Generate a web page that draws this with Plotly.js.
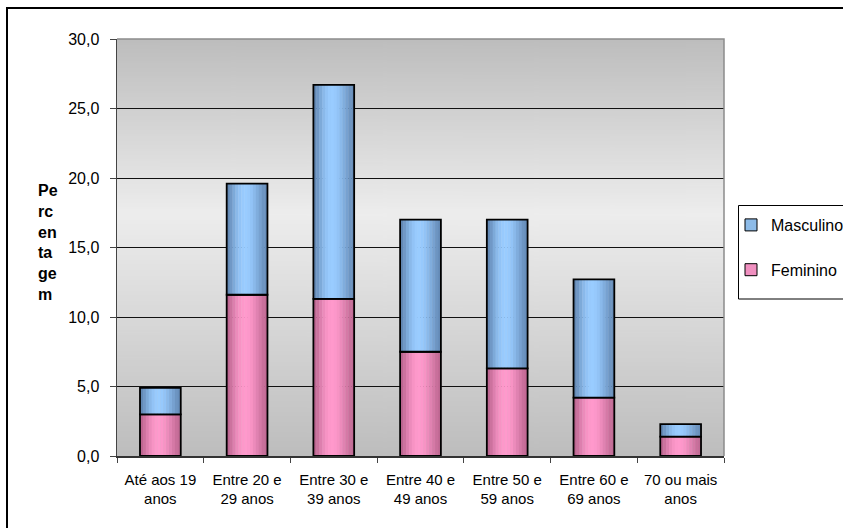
<!DOCTYPE html>
<html>
<head>
<meta charset="utf-8">
<script src="https://cdn.plot.ly/plotly-3.0.1.min.js"></script>
<style>
  html, body { margin: 0; padding: 0; background: #fff; }
  #chart { width: 843px; height: 528px; }
</style>
</head>
<body>
<div id="chart"></div>
<script>
// ---- data ----
const categories = ["Até aos 19 anos", "Entre 20 e 29 anos", "Entre 30 e 39 anos", "Entre 40 e 49 anos", "Entre 50 e 59 anos", "Entre 60 e 69 anos", "70 ou mais anos"];
const tickLabels = ["Até aos 19<br>anos", "Entre 20 e<br>29 anos", "Entre 30 e<br>39 anos", "Entre 40 e<br>49 anos", "Entre 50 e<br>59 anos", "Entre 60 e<br>69 anos", "70 ou mais<br>anos"];
const feminino = [3.0, 11.6, 11.3, 7.5, 6.3, 4.2, 1.4];
const masculino = [1.9, 8.0, 15.4, 9.5, 10.7, 8.5, 0.9];
const seriesNames = ["Masculino", "Feminino"];
const yTitle = "Pe<br>rc<br>en<br>ta<br>ge<br>m";

// ---- layout helpers ----
const W = 843, H = 528;
const M = { l: 117, r: 119, t: 39, b: 72 };
const pw = W - M.l - M.r, ph = H - M.t - M.b;
const px2x = p => (p - M.l) / pw;
const py2y = p => (H - M.b - p) / ph;
const FONT = "Liberation Sans, Arial, sans-serif";

// cylinder-like shading for bars
const barW = 0.47;
const profile = [0.22, 0.4, 0.6, 0.78, 0.9, 0.98, 1.0, 0.97, 0.9, 0.78, 0.64, 0.5, 0.36, 0.28];
const N = profile.length;
function mix(dark, light, t) {
  const c = dark.map((d, i) => Math.round(d + (light[i] - d) * t));
  return `rgb(${c[0]},${c[1]},${c[2]})`;
}
const blueDark = [84, 118, 160], blueLight = [153, 204, 255];
const pinkDark = [170, 88, 128], pinkLight = [255, 153, 204];

const femBase = feminino.map(() => 0);
const mascBase = feminino.slice();

const traces = [];
function addSeries(vals, base, dark, light) {
  for (let i = 0; i < N; i++) {
    traces.push({
      type: "bar", x: categories, y: vals, base: base,
      width: barW / N + 0.004, offset: -barW / 2 + i * barW / N,
      marker: { color: mix(dark, light, profile[i]), line: { width: 0 } },
      showlegend: false, hoverinfo: "skip"
    });
  }
  traces.push({
    type: "bar", x: categories, y: vals, base: base,
    width: barW, offset: -barW / 2,
    marker: { color: "rgba(0,0,0,0)", line: { color: "#000", width: 1.8 } },
    showlegend: false, hoverinfo: "skip"
  });
}
addSeries(feminino, femBase, pinkDark, pinkLight);
addSeries(masculino, mascBase, blueDark, blueLight);

// legend entries
traces.push({ type: "bar", x: [categories[0]], y: [null], name: seriesNames[0], legendgroup: "m",
  marker: { color: "#8dbbe8", line: { color: "#000", width: 1 } } });
traces.push({ type: "bar", x: [categories[0]], y: [null], name: seriesNames[1], legendgroup: "f",
  marker: { color: "#f090c0", line: { color: "#000", width: 1 } } });

// background gradient image
const cv = document.createElement("canvas");
cv.width = 8; cv.height = 400;
const ctx = cv.getContext("2d");
const g = ctx.createLinearGradient(0, 0, 0, 400);
g.addColorStop(0, "#bdbdbd");
g.addColorStop(0.42, "#ededed");
g.addColorStop(1, "#bdbdbd");
ctx.fillStyle = g; ctx.fillRect(0, 0, 8, 400);
const bgImg = cv.toDataURL("image/png");

const layout = {
  width: W, height: H,
  margin: { l: M.l, r: M.r, t: M.t, b: M.b, autoexpand: false },
  paper_bgcolor: "#fff", plot_bgcolor: "rgba(0,0,0,0)",
  barmode: "overlay",
  separators: ",.",
  font: { family: FONT, color: "#000", size: 15 },
  showlegend: true,
  legend: {
    x: px2x(731), xanchor: "left", y: py2y(208), yanchor: "top",
    bgcolor: "rgba(0,0,0,0)", borderwidth: 0,
    font: { family: FONT, size: 16, color: "#000" },
    traceorder: "grouped", tracegroupgap: 21
  },
  xaxis: {
    type: "category", range: [-0.5, 6.5],
    tickvals: categories, ticktext: tickLabels,
    ticks: "outside", tickson: "boundaries", ticklen: 5, tickcolor: "#444", tickwidth: 1,
    showline: true, linecolor: "#333", linewidth: 1.5,
    showgrid: false, tickfont: { family: FONT, size: 15, color: "#000" },
    ticklabelstandoff: 9, fixedrange: true
  },
  yaxis: {
    range: [0, 30], tick0: 0, dtick: 5, tickformat: ".1f",
    ticks: "outside", ticklen: 6, tickcolor: "#444", tickwidth: 1,
    showline: true, linecolor: "#444", linewidth: 1.5,
    showgrid: true, gridcolor: "#111", gridwidth: 1, zeroline: false,
    tickfont: { family: FONT, size: 16, color: "#000" }, ticklabelstandoff: 7, fixedrange: true
  },
  images: [{ source: bgImg, xref: "paper", yref: "paper", x: 0, y: 1, sizex: 1, sizey: 1,
    sizing: "stretch", xanchor: "left", yanchor: "top", layer: "below" }],
  shapes: [
    { type: "path", xref: "paper", yref: "paper", path: "M0,1 L1,1 L1,0", line: { color: "#8c8c8c", width: 1.5 }, layer: "above" },
    { type: "rect", xref: "paper", yref: "paper", x0: px2x(7), x1: px2x(900), y0: py2y(560), y1: py2y(8), line: { color: "#000", width: 2 } },
    { type: "rect", xref: "paper", yref: "paper", x0: px2x(738.5), x1: px2x(880), y0: py2y(299), y1: py2y(205.5), line: { color: "#000", width: 1 } }
  ],
  annotations: [{
    xref: "paper", yref: "paper", x: px2x(36), xanchor: "left", y: py2y(242), yanchor: "middle",
    text: "<b>" + yTitle + "</b>", showarrow: false, align: "left",
    font: { family: FONT, size: 16, color: "#000" }
  }]
};

Plotly.newPlot("chart", traces, layout, { displayModeBar: false, staticPlot: true });
</script>
</body>
</html>
